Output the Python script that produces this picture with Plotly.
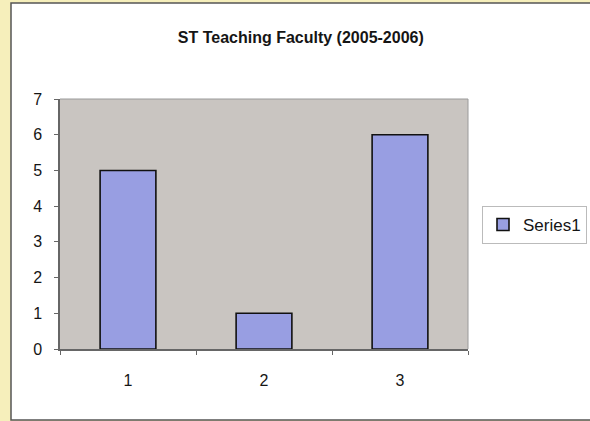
import plotly.graph_objects as go

# data
categories = ["1", "2", "3"]
series1 = [5, 1, 6]
title = "ST Teaching Faculty (2005-2006)"

W, H = 590, 421
L, R, T, B = 60, 122, 99, 72
pw, ph = W - L - R, H - T - B


# pixel -> paper helpers (for the outer frame / legend)
def px(x):
    return (x - L) / pw


def py(y):
    return (H - y - B) / ph


fig = go.Figure()
fig.add_trace(go.Bar(
    x=categories, y=series1, name="Series1",
    marker=dict(color="#989ee2", line=dict(color="#111111", width=1.6)),
))

fig.update_layout(
    width=W, height=H,
    margin=dict(l=L, r=R, t=T, b=B, autoexpand=False),
    paper_bgcolor="#f6efbb",
    plot_bgcolor="#c9c5c1",
    bargap=0.59,
    showlegend=True,
    font=dict(family="Liberation Sans, Arial, sans-serif", size=16, color="#151515"),
    title=dict(text="<b>" + title + "</b>", x=px(268), xanchor="center",
               y=1 - 37 / H, yanchor="middle",
               font=dict(size=16, color="#151515")),
    legend=dict(x=px(482), xanchor="left", y=py(225), yanchor="middle",
                bgcolor="white", bordercolor="#bbbbbb", borderwidth=1,
                font=dict(size=17), itemwidth=30, traceorder="normal"),
    shapes=[
        # white chart frame on the yellow page
        dict(type="rect", xref="paper", yref="paper", layer="below",
             x0=px(11), x1=px(620), y0=py(420), y1=py(3),
             fillcolor="white", line=dict(color="#555555", width=1.5)),
        # grey plot area
        dict(type="rect", xref="paper", yref="paper", layer="below",
             x0=0, x1=1, y0=0, y1=1,
             fillcolor="#c9c5c1", line=dict(width=0)),
        dict(type="line", xref="paper", yref="paper", layer="above",
             x0=0, x1=1, y0=1, y1=1, line=dict(color="#9a9a9a", width=1)),
        dict(type="line", xref="paper", yref="paper", layer="above",
             x0=1, x1=1, y0=0, y1=1, line=dict(color="#9a9a9a", width=1)),
    ],
)

fig.update_xaxes(
    type="category", range=[-0.5, 2.5],
    showline=True, linecolor="#666666", linewidth=1.5,
    ticks="outside", tickson="boundaries", ticklen=4, tickcolor="#666666",
    showgrid=False, tickfont=dict(size=16), ticklabelstandoff=16,
)
fig.update_yaxes(
    range=[0, 7], dtick=1,
    showline=True, linecolor="#666666", linewidth=1.5,
    ticks="outside", ticklen=4, tickcolor="#666666",
    showgrid=False, zeroline=False, tickfont=dict(size=16), ticklabelstandoff=9,
)

fig.write_html("out.html", config={"displayModeBar": False},
               post_script="document.body.style.margin='0';")
